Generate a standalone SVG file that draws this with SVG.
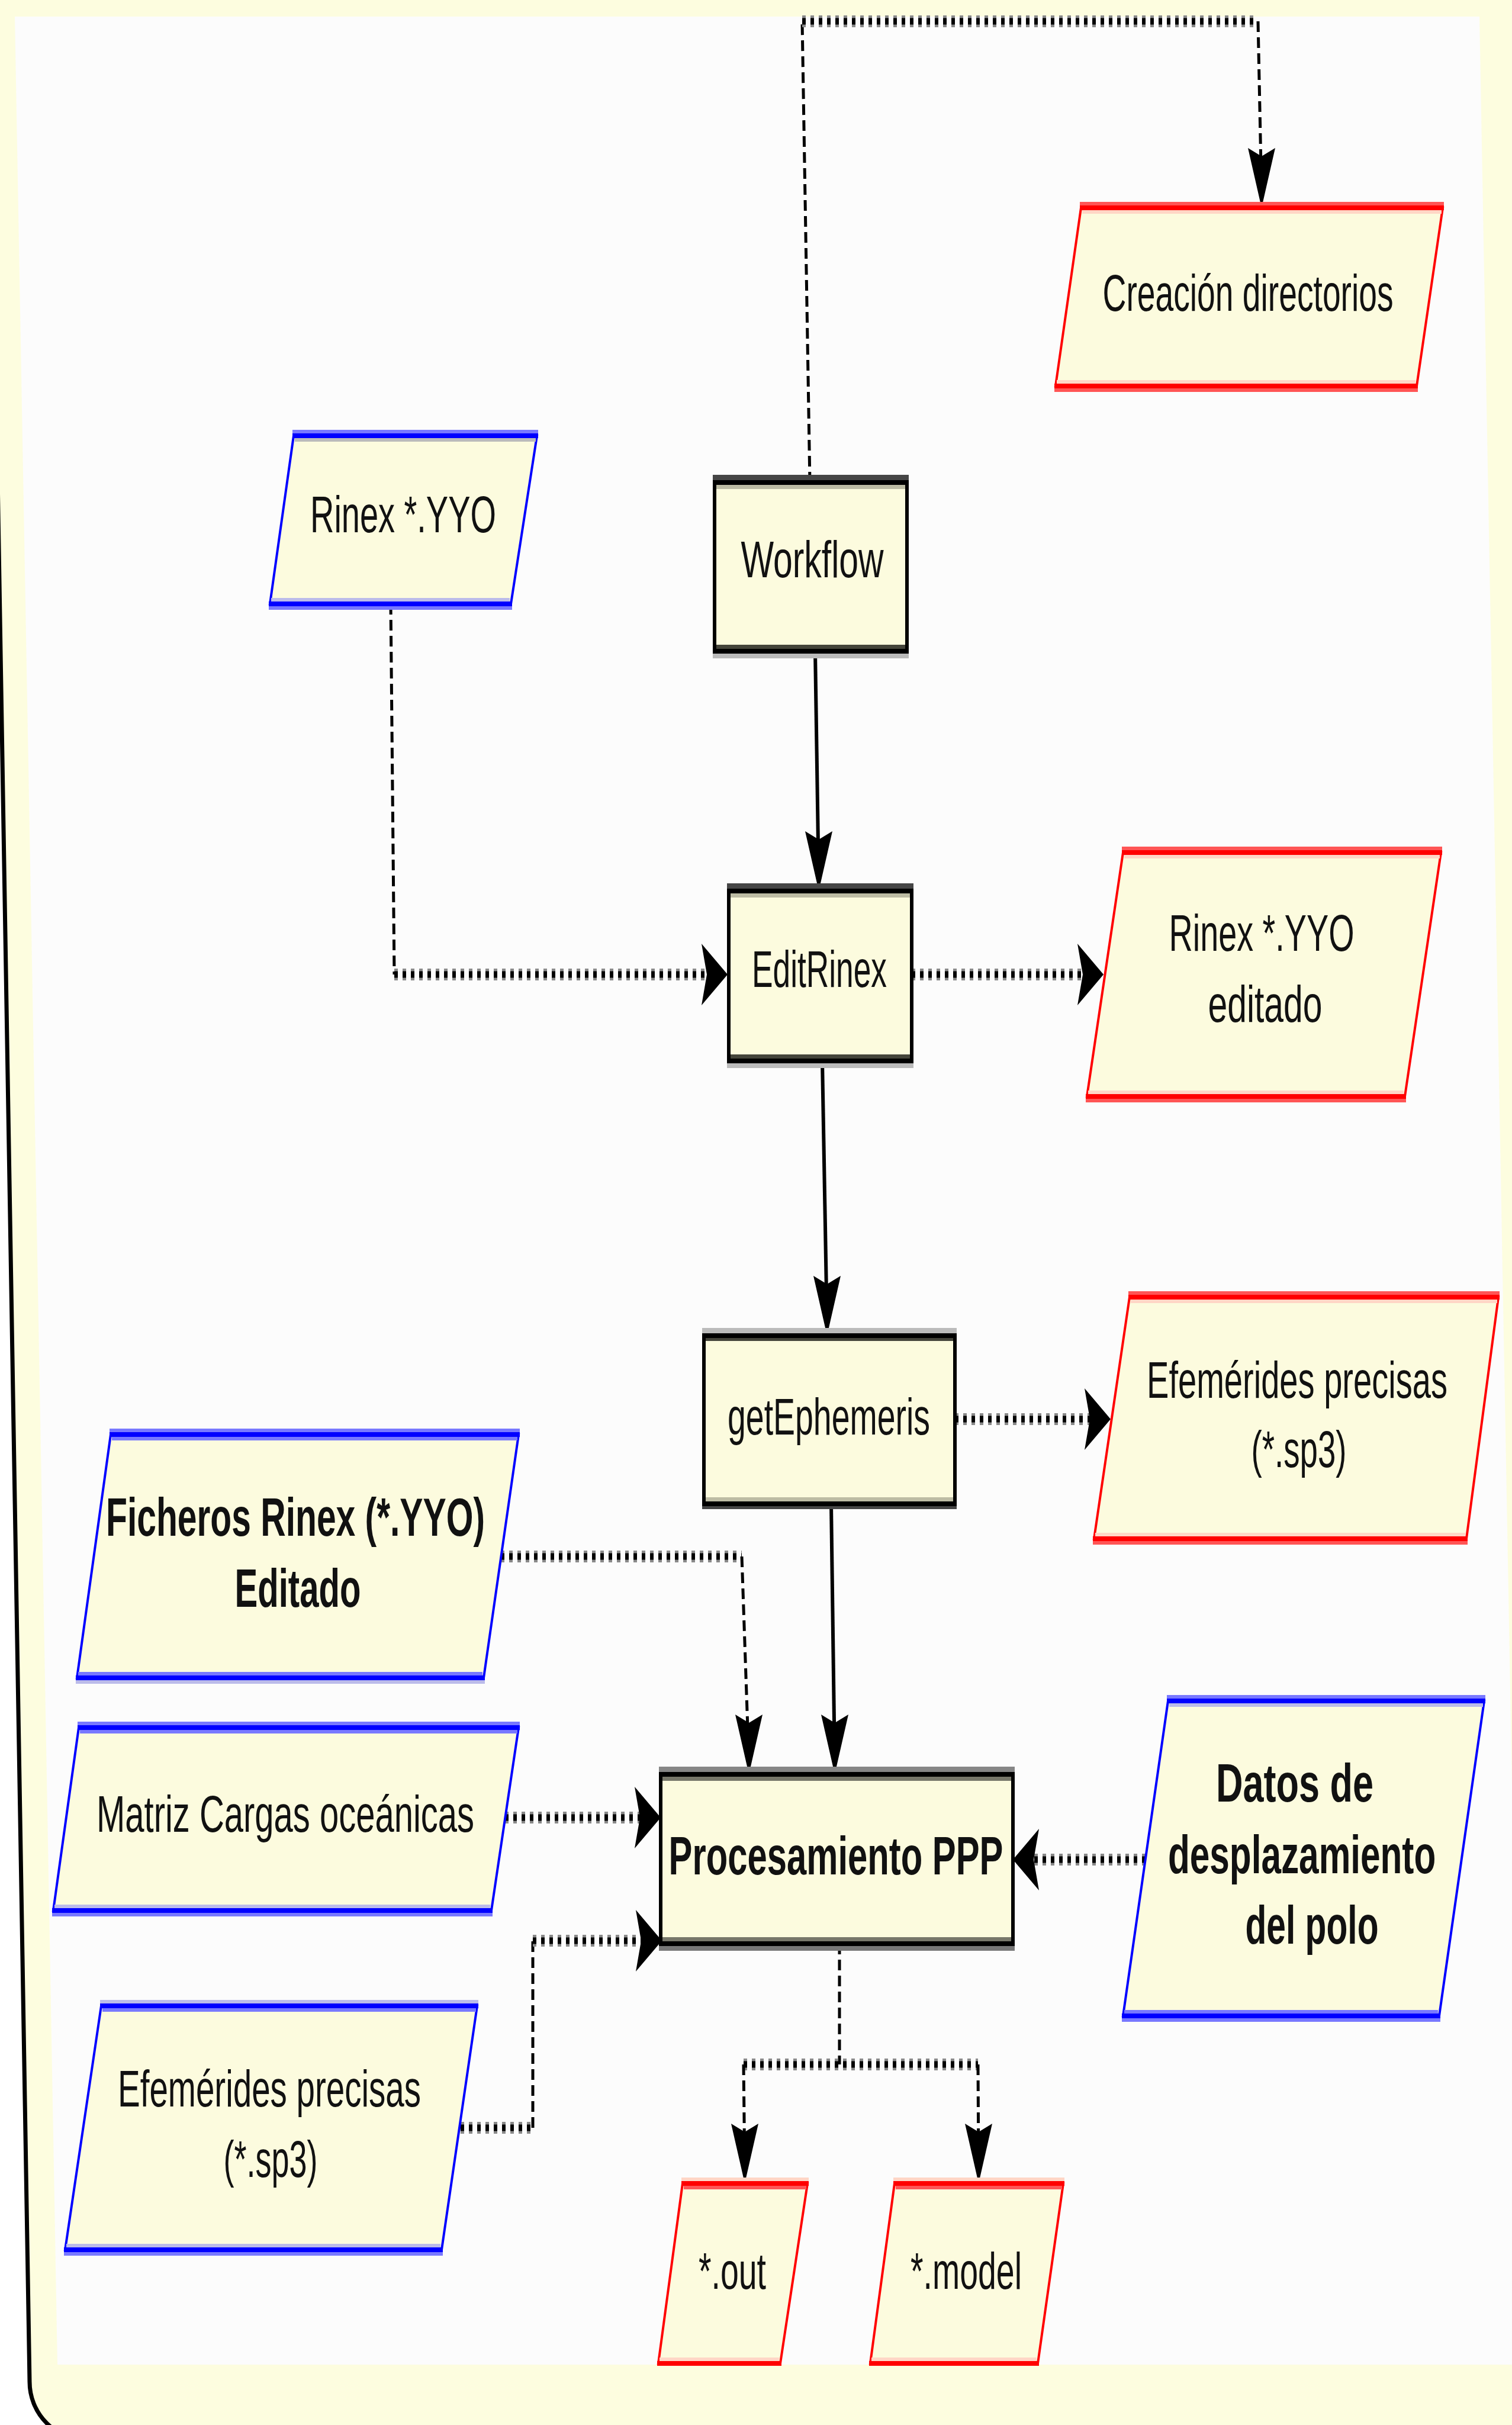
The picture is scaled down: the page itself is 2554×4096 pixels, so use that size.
<svg xmlns="http://www.w3.org/2000/svg" xmlns:xlink="http://www.w3.org/1999/xlink" width="2554" height="4096" viewBox="0 0 2554 4096">
<style>
.fill{fill:#FCFBDE}
text{font-family:"Liberation Sans",Arial,sans-serif;fill:#111}
.t{font-size:88px}
.tb{font-size:90px;font-weight:bold}
.sl{stroke:#000;stroke-width:6;fill:none}
.dv{stroke:#000;stroke-width:5;stroke-dasharray:18 9;fill:none}
.hg{stroke:#8a8a8a;stroke-width:20;stroke-dasharray:6 8;fill:none}
.hk{stroke:#000;stroke-width:11;stroke-dasharray:6 8;fill:none}
.ah{fill:#000}
.rS{fill:#FF0000}.rM{fill:#FF5555}.rP{fill:#FFD6C6}
.bS{fill:#0000FF}.bM{fill:#7878FF}.bP{fill:#BBBBEA}
.red{stroke:#FF0000;stroke-width:4}
.blue{stroke:#0000FF;stroke-width:4}
.box{stroke:#000;stroke-width:6}
.kA{fill:#454545}.kB{fill:#000}.kC{fill:#BDBCA4}.kD{fill:#44443A}.kE{fill:#BBBBBB}
</style>
<defs>
<path id="aDown" d="M0,0 L-23,-101 L0,-87 L23,-101 Z"/>
<path id="aRight" d="M0,0 L-44,-52 L-35,0 L-44,52 Z"/>
<path id="aLeft" d="M0,0 L44,-52 L35,0 L44,52 Z"/>
</defs>

<g id="background">
<rect x="0" y="0" width="2554" height="4096" fill="#FFFFFF"/>
<path d="M-18,-30 L50,4023 A99,99 0 0 0 149,4122 L2600,4122 L2600,-30 Z" fill="#FDFDDF" stroke="#000" stroke-width="7"/>
<polygon points="25,28 2499,28 2572,3994 97,3994" fill="#FCFCFC"/>
</g>

<g id="connectors">
<!-- Workflow -> Creacion directorios -->
<path class="dv" d="M1368,815 L1355,36"/>
<path class="hg" d="M1355,36 H2125"/><path class="hk" d="M1355,36 H2125"/>
<path class="dv" d="M2125,36 L2131,331"/>
<use xlink:href="#aDown" class="ah" x="2131" y="351"/>
<!-- Workflow -> EditRinex -->
<path class="sl" d="M1377,1100 L1383,1490"/>
<use xlink:href="#aDown" class="ah" x="1383" y="1505"/>
<!-- Rinex *.YYO -> EditRinex -->
<path class="dv" d="M660,1020 L666,1646"/>
<path class="hg" d="M666,1646 H1196"/><path class="hk" d="M666,1646 H1196"/>
<use xlink:href="#aRight" class="ah" x="1229" y="1646"/>
<!-- EditRinex -> Rinex editado -->
<path class="hg" d="M1540,1646 H1831"/><path class="hk" d="M1540,1646 H1831"/>
<use xlink:href="#aRight" class="ah" x="1864" y="1646"/>
<!-- EditRinex -> getEphemeris -->
<path class="sl" d="M1389,1792 L1397,2240"/>
<use xlink:href="#aDown" class="ah" x="1397" y="2256"/>
<!-- getEphemeris -> Efemerides (red) -->
<path class="hg" d="M1613,2397 H1843"/><path class="hk" d="M1613,2397 H1843"/>
<use xlink:href="#aRight" class="ah" x="1876" y="2397"/>
<!-- getEphemeris -> Procesamiento -->
<path class="sl" d="M1404,2540 L1410,2980"/>
<use xlink:href="#aDown" class="ah" x="1410" y="2997"/>
<!-- Ficheros -> Procesamiento -->
<path class="hg" d="M846,2629 H1253"/><path class="hk" d="M846,2629 H1253"/>
<path class="dv" d="M1253,2629 L1265,2977"/>
<use xlink:href="#aDown" class="ah" x="1265" y="2997"/>
<!-- Matriz -> Procesamiento -->
<path class="hg" d="M853,3070 H1083"/><path class="hk" d="M853,3070 H1083"/>
<use xlink:href="#aRight" class="ah" x="1116" y="3070"/>
<!-- Datos -> Procesamiento -->
<path class="hg" d="M1935,3141 H1744"/><path class="hk" d="M1935,3141 H1744"/>
<use xlink:href="#aLeft" class="ah" x="1711" y="3141"/>
<!-- Efemerides (blue) -> Procesamiento -->
<path class="hg" d="M778,3594 H900"/><path class="hk" d="M778,3594 H900"/>
<path class="dv" d="M900,3594 L900,3278"/>
<path class="hg" d="M900,3278 H1085"/><path class="hk" d="M900,3278 H1085"/>
<use xlink:href="#aRight" class="ah" x="1118" y="3278"/>
<!-- Procesamiento -> outputs -->
<path class="dv" d="M1418,3283 L1418,3487"/>
<path class="hg" d="M1256,3487 H1652"/><path class="hk" d="M1256,3487 H1652"/>
<path class="dv" d="M1256,3487 L1258,3668"/>
<path class="dv" d="M1652,3487 L1653,3668"/>
<use xlink:href="#aDown" class="ah" x="1258" y="3688"/>
<use xlink:href="#aDown" class="ah" x="1653" y="3688"/>
</g>

<g id="node-creacion">
<polygon class="fill red" points="1826,351 2437,351 2393,652 1783,652"/>
<rect class="rM" x="1824" y="341" width="615" height="6"/><rect class="rS" x="1824" y="347" width="615" height="8"/><rect class="rP" x="1828" y="355" width="607" height="6"/>
<rect class="rP" x="1785" y="642" width="606" height="6"/><rect class="rS" x="1781" y="648" width="614" height="8"/><rect class="rM" x="1781" y="656" width="614" height="6"/>
<text class="t" transform="translate(1862.5,525) scale(0.628,1)" x="0" y="0" textLength="782" lengthAdjust="spacingAndGlyphs">Creación directorios</text>
</g>

<g id="node-rinex">
<polygon class="fill blue" points="496,736 907,736 863,1020 456,1020"/>
<rect class="bM" x="494" y="726" width="415" height="6"/><rect class="bS" x="494" y="732" width="415" height="8"/><rect class="kE" x="498" y="740" width="407" height="6"/>
<rect class="bP" x="458" y="1010" width="403" height="6"/><rect class="bS" x="454" y="1016" width="411" height="8"/><rect class="bM" x="454" y="1024" width="411" height="6"/>
<text class="t" x="524" y="899" textLength="314" lengthAdjust="spacingAndGlyphs">Rinex *.YYO</text>
</g>

<g id="node-workflow">
<rect class="fill box" x="1207" y="815" width="325" height="285"/>
<rect class="kA" x="1204" y="802" width="331" height="9"/><rect class="kB" x="1204" y="811" width="331" height="8"/><rect class="kC" x="1210" y="819" width="319" height="7"/>
<rect class="kD" x="1210" y="1089" width="319" height="7"/><rect class="kB" x="1204" y="1096" width="331" height="8"/><rect class="kE" x="1204" y="1104" width="331" height="8"/>
<text class="t" x="1251.5" y="975" textLength="241" lengthAdjust="spacingAndGlyphs">Workflow</text>
</g>

<g id="node-editrinex">
<rect class="fill box" x="1231" y="1505" width="309" height="287"/>
<rect class="kA" x="1228" y="1492" width="315" height="9"/><rect class="kB" x="1228" y="1501" width="315" height="8"/><rect class="kC" x="1234" y="1509" width="303" height="7"/>
<rect class="kD" x="1234" y="1781" width="303" height="7"/><rect class="kB" x="1228" y="1788" width="315" height="8"/><rect class="kE" x="1228" y="1796" width="315" height="8"/>
<text class="t" x="1270" y="1667" textLength="228" lengthAdjust="spacingAndGlyphs">EditRinex</text>
</g>

<g id="node-rinex-editado">
<polygon class="fill red" points="1897,1440 2434,1440 2373,1852 1836,1852"/>
<rect class="rM" x="1895" y="1430" width="541" height="6"/><rect class="rS" x="1895" y="1436" width="541" height="8"/><rect class="rP" x="1899" y="1444" width="533" height="6"/>
<rect class="rP" x="1838" y="1842" width="533" height="6"/><rect class="rS" x="1834" y="1848" width="541" height="8"/><rect class="rM" x="1834" y="1856" width="541" height="6"/>
<text class="t" x="1974.5" y="1606" textLength="313" lengthAdjust="spacingAndGlyphs">Rinex *.YYO</text>
<text class="t" x="2040.5" y="1726" textLength="193" lengthAdjust="spacingAndGlyphs">editado</text>
</g>

<g id="node-getephemeris">
<rect class="fill box" x="1189" y="2256" width="424" height="284"/>
<rect class="kE" x="1186" y="2243" width="430" height="9"/><rect class="kB" x="1186" y="2252" width="430" height="8"/><rect class="kD" x="1192" y="2260" width="418" height="5"/>
<rect class="kC" x="1192" y="2529" width="418" height="7"/><rect class="kB" x="1186" y="2536" width="430" height="8"/><rect class="kA" x="1186" y="2544" width="430" height="5"/>
<text class="t" x="1229" y="2423" textLength="342" lengthAdjust="spacingAndGlyphs">getEphemeris</text>
</g>

<g id="node-efemerides-out">
<polygon class="fill red" points="1908,2191 2531,2191 2477,2599 1848,2599"/>
<rect class="rM" x="1906" y="2181" width="627" height="6"/><rect class="rS" x="1906" y="2187" width="627" height="8"/><rect class="rP" x="1910" y="2195" width="619" height="6"/>
<rect class="rP" x="1850" y="2589" width="625" height="6"/><rect class="rS" x="1846" y="2595" width="633" height="8"/><rect class="rM" x="1846" y="2603" width="633" height="6"/>
<text class="t" transform="translate(1937,2361) scale(0.643,1)" x="0" y="0" textLength="790" lengthAdjust="spacingAndGlyphs">Efemérides precisas</text>
<text class="t" x="2113.5" y="2478" textLength="161" lengthAdjust="spacingAndGlyphs">(*.sp3)</text>
</g>

<g id="node-ficheros">
<polygon class="fill blue" points="187,2423 876,2423 817,2834 130,2834"/>
<rect class="bM" x="185" y="2413" width="693" height="6"/><rect class="bS" x="185" y="2419" width="693" height="8"/><rect class="bM" x="189" y="2427" width="685" height="6"/>
<rect class="bM" x="132" y="2824" width="683" height="6"/><rect class="bS" x="128" y="2830" width="691" height="8"/><rect class="bP" x="128" y="2838" width="691" height="6"/>
<text class="tb" x="179" y="2594" textLength="640" lengthAdjust="spacingAndGlyphs">Ficheros Rinex (*.YYO)</text>
<text class="tb" x="396.5" y="2714" textLength="213" lengthAdjust="spacingAndGlyphs">Editado</text>
</g>

<g id="node-matriz">
<polygon class="fill blue" points="133,2918 876,2918 830,3227 90,3227"/>
<rect class="bM" x="131" y="2908" width="747" height="6"/><rect class="bS" x="131" y="2914" width="747" height="8"/><rect class="bM" x="135" y="2922" width="739" height="6"/>
<rect class="bP" x="92" y="3217" width="736" height="6"/><rect class="bS" x="88" y="3223" width="744" height="8"/><rect class="bM" x="88" y="3231" width="744" height="6"/>
<text class="t" x="163" y="3094" textLength="638" lengthAdjust="spacingAndGlyphs">Matriz Cargas oceánicas</text>
</g>

<g id="node-procesamiento">
<rect class="fill box" x="1116" y="2997" width="595" height="286"/>
<rect x="1113" y="2984" width="601" height="9" fill="#868686"/><rect class="kB" x="1113" y="2993" width="601" height="8"/><rect x="1119" y="3001" width="589" height="7" fill="#77776A"/>
<rect x="1119" y="3272" width="589" height="7" fill="#77776A"/><rect class="kB" x="1113" y="3279" width="601" height="8"/><rect x="1113" y="3287" width="601" height="8" fill="#777777"/>
<text class="tb" x="1129.5" y="3166" textLength="565" lengthAdjust="spacingAndGlyphs">Procesamiento PPP</text>
</g>

<g id="node-datos">
<polygon class="fill blue" points="1973,2873 2507,2873 2431,3405 1897,3405"/>
<rect class="bM" x="1971" y="2863" width="538" height="6"/><rect class="bS" x="1971" y="2869" width="538" height="8"/><rect class="bP" x="1975" y="2877" width="530" height="6"/>
<rect class="bM" x="1899" y="3395" width="530" height="6"/><rect class="bS" x="1895" y="3401" width="538" height="8"/><rect class="bM" x="1895" y="3409" width="538" height="6"/>
<text class="tb" x="2054" y="3043" textLength="266" lengthAdjust="spacingAndGlyphs">Datos de</text>
<text class="tb" transform="translate(1973,3164) scale(0.679,1)" x="0" y="0" textLength="666" lengthAdjust="spacingAndGlyphs">desplazamiento</text>
<text class="tb" x="2103.5" y="3283" textLength="225" lengthAdjust="spacingAndGlyphs">del polo</text>
</g>

<g id="node-efemerides-in">
<polygon class="fill blue" points="171,3388 806,3388 746,3800 110,3800"/>
<rect class="bP" x="169" y="3378" width="639" height="6"/><rect class="bS" x="169" y="3384" width="639" height="8"/><rect class="bM" x="173" y="3392" width="631" height="6"/>
<rect class="bP" x="112" y="3790" width="632" height="6"/><rect class="bS" x="108" y="3796" width="640" height="8"/><rect class="bM" x="108" y="3804" width="640" height="6"/>
<text class="t" x="199" y="3558" textLength="512" lengthAdjust="spacingAndGlyphs">Efemérides precisas</text>
<text class="t" x="377.5" y="3677" textLength="159" lengthAdjust="spacingAndGlyphs">(*.sp3)</text>
</g>

<g id="node-out">
<polygon class="fill red" points="1153,3688 1364,3688 1318,3992 1112,3992"/>
<rect class="rP" x="1151" y="3678" width="215" height="6"/><rect class="rS" x="1151" y="3684" width="215" height="8"/><rect class="rM" x="1155" y="3692" width="207" height="6"/>
<rect class="rP" x="1114" y="3982" width="202" height="6"/><rect class="rS" x="1110" y="3988" width="210" height="8"/>
<text class="t" x="1180" y="3866" textLength="114" lengthAdjust="spacingAndGlyphs">*.out</text>
</g>

<g id="node-model">
<polygon class="fill red" points="1511,3688 1796,3688 1753,3992 1470,3992"/>
<rect class="rP" x="1509" y="3678" width="289" height="6"/><rect class="rS" x="1509" y="3684" width="289" height="8"/><rect class="rM" x="1513" y="3692" width="281" height="6"/>
<rect class="rP" x="1472" y="3982" width="279" height="6"/><rect class="rS" x="1468" y="3988" width="287" height="8"/>
<text class="t" x="1538" y="3866" textLength="188" lengthAdjust="spacingAndGlyphs">*.model</text>
</g>
</svg>
